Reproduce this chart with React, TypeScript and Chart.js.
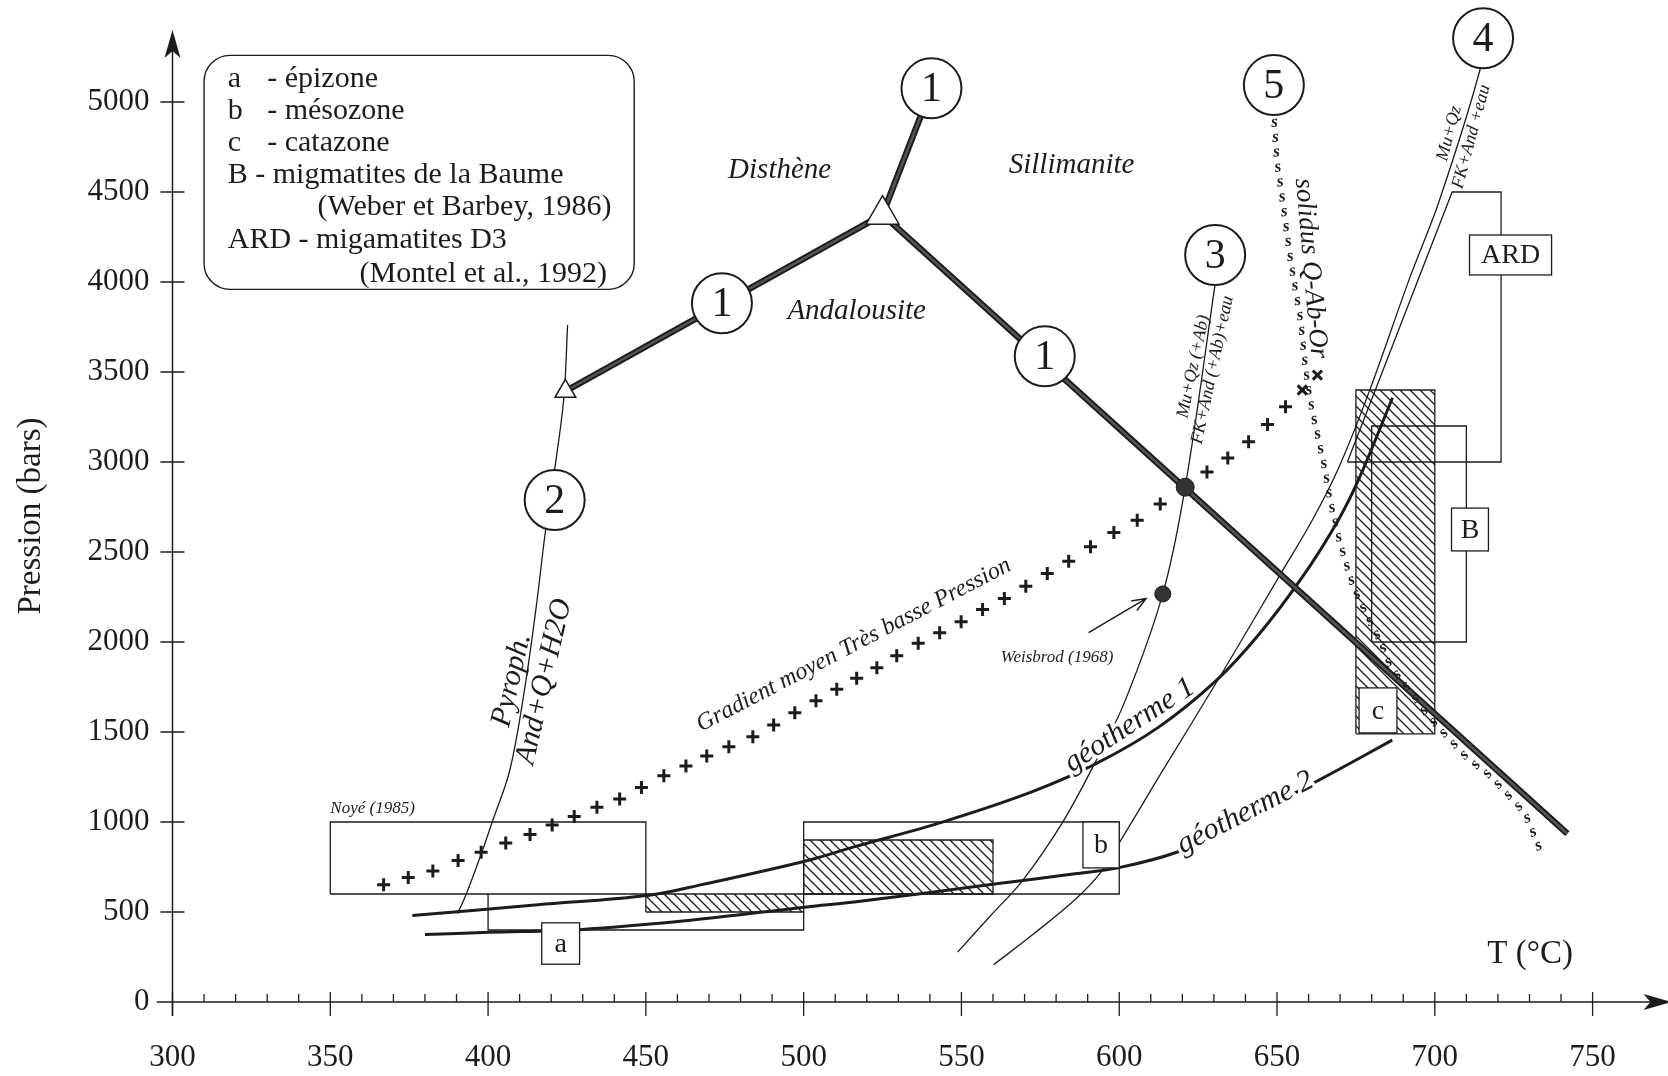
import React, { useEffect, useRef } from 'react';
import { Chart, registerables } from 'chart.js';

Chart.register(...registerables);

const INK = '#1c1c1c';
const SERIF = '"Liberation Serif", "Times New Roman", Times, serif';

// ---------- axes ----------
const tickT = [300, 350, 400, 450, 500, 550, 600, 650, 700, 750];
const tickP = [0, 500, 1000, 1500, 2000, 2500, 3000, 3500, 4000, 4500, 5000];
const minorStepT = 10;
const axisTipT = 775;
const axisTipP = 5400;

// ---------- (1) Al2SiO5 triple point & reactions ----------
const triplePointT = [525];
const triplePointP = [4374];
const kyAndT = [525, 424.5];
const kyAndP = [4374, 3393];
const andSilT = [525, 742];
const andSilP = [4374, 935];
const kySilT = [525, 540.5];
const kySilP = [4374, 5076];

// ---------- (2) Pyroph. -> And+Q+H2O ----------
const pyroT = [390.3, 393.1, 398.1, 401.3, 406.9, 411.7, 415.4, 418.1, 421.1, 424, 425.2];
const pyroP = [491, 600, 836, 1000, 1289, 1752, 2215, 2604, 2960, 3354, 3761];
const pyroEndT = [424.5];
const pyroEndP = [3393];

// ---------- (3) Mu+Qz(+Ab) -> FK+And(+Ab)+eau ----------
const mus3T = [548.8, 559, 569.3, 581.8, 592, 601.7, 613.8, 620.9, 630.4];
const mus3P = [277, 475, 673, 991, 1318, 1666, 2267, 2860, 3990];
const dotsT = [620.9, 613.8];
const dotsP = [2860, 2267];

// ---------- (4) Mu+Qz -> FK+And+eau ----------
const mus4T = [560.2, 572.7, 586.3, 594.3, 600.3, 612.5, 631.8, 651.2, 661.2, 669.7, 679.2, 692, 701.5, 714.3, 715.3];
const mus4P = [207, 376, 574, 723, 892, 1249, 1804, 2380, 2678, 2974, 3391, 4020, 4456, 5178, 5354];

// ---------- (5) solidus Q-Ab-Or ----------
const solT = [649, 650, 652.2, 654.3, 657.5, 659.1, 661, 665, 667.1, 670.2, 674.3, 678.4, 682.5, 685.6, 690.7, 697.9, 703.1, 710.3, 717.5, 723.7, 728.8, 733];
const solP = [4937, 4678, 4400, 4122, 3789, 3511, 3300, 2980, 2767, 2535, 2303, 2148, 2013, 1877, 1761, 1587, 1490, 1355, 1258, 1142, 1045, 860];

// ---------- geotherms ----------
const geo1T = [376, 415.8, 451, 468.5, 501, 516, 544.2, 572.7, 593.1, 612.5, 630.7, 644.3, 658, 669.4, 676.2, 686.6];
const geo1P = [480, 540, 593, 655, 785, 862, 1001, 1170, 1328, 1527, 1785, 2043, 2360, 2677, 2916, 3357];
const geo2T = [380, 400.3, 428.9, 464.8, 501, 516, 560.5, 586, 600.3, 618.2, 635.2, 652.3, 669.4, 686.5];
const geo2P = [375, 387, 402, 455, 528, 555, 655, 712, 748, 832, 971, 1130, 1290, 1455];

// ---------- Gradient moyen Très basse Pression (crosses) ----------
const gradT = [366.9, 374.7, 382.5, 390.5, 397.8, 405.6, 413.3, 420.3, 427.3, 434.5, 441.7, 448.6, 455.7, 462.7, 469.3, 476.3, 483.9, 490.5, 497.2, 503.9, 510.5, 516.8, 523.2, 529.5, 536.3, 543.1, 549.9, 556.7, 563.6, 570.4, 577.2, 584, 590.9, 598.3, 605.7, 613, 627.8, 634.4, 641, 647, 652.7];
const gradP = [651, 692, 728, 786, 832, 883, 930, 983, 1030, 1082, 1128, 1192, 1257, 1311, 1367, 1418, 1474, 1539, 1607, 1674, 1737, 1798, 1857, 1924, 1993, 2052, 2112, 2181, 2241, 2310, 2380, 2449, 2529, 2608, 2677, 2767, 2945, 3022, 3112, 3209, 3307];
const gradXT = [658, 662.8];
const gradXP = [3400, 3483];

// ---------- zones (boxes) ----------
const noyeT = [350, 450, 450, 350, 350];
const noyeP = [600, 600, 1000, 1000, 600];
const epiT = [400, 400, 500, 500];
const epiP = [600, 400, 400, 500];
const epiHatchT = [450, 500, 500, 450, 450];
const epiHatchP = [500, 500, 600, 600, 500];
const mesoT = [500, 600, 600, 500, 500];
const mesoP = [600, 600, 1000, 1000, 600];
const mesoHatchT = [500, 560, 560, 500, 500];
const mesoHatchP = [600, 600, 900, 900, 600];
const cataT = [675, 700, 700, 675, 675];
const cataP = [1490, 1490, 3400, 3400, 1490];
const baumeT = [680, 710, 710, 680, 680];
const baumeP = [2000, 2000, 3200, 3200, 2000];
const ardT = [672.3, 721, 721, 705.5, 672.3];
const ardP = [3000, 3000, 4500, 4500, 3000];

// ---------- labels ----------
const circleLabels = ['1', '1', '1', '2', '3', '4', '5'];
const circleT = [540.5, 474.1, 576.4, 421.1, 630.4, 715.3, 649];
const circleP = [5076, 3882, 3587, 2789, 4150, 5354, 5094];

const boxLabels = ['a', 'b', 'c', 'B', 'ARD'];
const boxT0 = [417, 588.5, 676, 705.3, 711];
const boxT1 = [429, 600, 688, 717, 737];
const boxP0 = [210, 745, 1495, 2506, 4039];
const boxP1 = [440, 1000, 1745, 2744, 4261];

const legendLines = [
  ['a', '- épizone'],
  ['b', '- mésozone'],
  ['c', '- catazone'],
  ['B - migmatites de la Baume', ''],
  ['', '(Weber et Barbey, 1986)'],
  ['ARD - migamatites D3', ''],
  ['', '(Montel et al., 1992)'],
];
const legendLineP = [5125, 4947, 4769, 4592, 4414, 4233, 4044];

const pts = (T: number[], P: number[]) => T.map((t, i) => ({ x: t, y: P[i] }));

function makeHatch(): CanvasPattern | string {
  const s = 10;
  const c = document.createElement('canvas');
  c.width = s;
  c.height = s;
  const g = c.getContext('2d');
  if (!g) return INK;
  g.strokeStyle = INK;
  g.lineWidth = 1.3;
  g.beginPath();
  g.moveTo(-1, -1);
  g.lineTo(s + 1, s + 1);
  g.moveTo(-2, s - 2);
  g.lineTo(2, s + 2);
  g.moveTo(s - 2, -2);
  g.lineTo(s + 2, 2);
  g.stroke();
  return g.createPattern(c, 'repeat') || INK;
}

const zeroPad = (s: any) => {
  s.paddingLeft = 0;
  s.paddingRight = 0;
  s.paddingTop = 0;
  s.paddingBottom = 0;
};

const annotations = {
  id: 'annotations',
  afterDatasetsDraw(chart: any) {
    const { ctx } = chart;
    const xs = chart.scales.x;
    const ys = chart.scales.y;
    const X = (t: number) => xs.getPixelForValue(t);
    const Y = (p: number) => ys.getPixelForValue(p);
    ctx.save();
    ctx.fillStyle = INK;
    ctx.strokeStyle = INK;

    const text = (s: string, t: number, p: number, font: string, o: any = {}) => {
      ctx.save();
      ctx.translate(X(t), Y(p));
      if (o.rot) ctx.rotate((o.rot * Math.PI) / 180);
      ctx.font = font;
      ctx.textAlign = o.align || 'center';
      ctx.textBaseline = o.baseline || 'middle';
      if (o.halo) {
        ctx.strokeStyle = '#fff';
        ctx.lineWidth = o.halo;
        ctx.lineJoin = 'round';
        ctx.strokeText(s, 0, 0);
      }
      ctx.fillStyle = INK;
      ctx.fillText(s, 0, 0);
      ctx.restore();
    };

    // solidus drawn as a chain of small "s"
    const sp = solT.map((t, i) => [X(t), Y(solP[i])]);
    ctx.font = `italic bold 17px ${SERIF}`;
    ctx.textAlign = 'center';
    ctx.textBaseline = 'middle';
    let carry = 9;
    for (let i = 0; i < sp.length - 1; i++) {
      const [ax, ay] = sp[i];
      const [bx, by] = sp[i + 1];
      const L = Math.hypot(bx - ax, by - ay);
      const ang = Math.atan2(by - ay, bx - ax);
      let d = carry;
      while (d <= L) {
        const px = ax + ((bx - ax) * d) / L;
        const py = ay + ((by - ay) * d) / L;
        ctx.save();
        ctx.translate(px, py);
        ctx.rotate(ang - Math.PI / 2);
        ctx.fillText('s', 0, 0);
        ctx.restore();
        d += 15;
      }
      carry = d - L;
    }

    // legend box
    ctx.lineWidth = 1.4;
    ctx.beginPath();
    (ctx as any).roundRect(X(310), Y(5259), X(446.3) - X(310), Y(3959) - Y(5259), 26);
    ctx.stroke();
    const lf = `30px ${SERIF}`;
    legendLines.forEach(([a, b], i) => {
      const p = legendLineP[i];
      if (a) text(a, 317.5, p, lf, { align: 'left' });
      if (b && a) text(b, 330, p, lf, { align: 'left' });
      if (b && !a) text(b, i === 4 ? 439.1 : 437.7, p, lf, { align: 'right' });
    });

    // label boxes
    boxLabels.forEach((s, i) => {
      const x0 = X(boxT0[i]);
      const x1 = X(boxT1[i]);
      const y0 = Y(boxP1[i]);
      const y1 = Y(boxP0[i]);
      ctx.fillStyle = '#fff';
      ctx.fillRect(x0, y0, x1 - x0, y1 - y0);
      ctx.lineWidth = 1.3;
      ctx.strokeStyle = INK;
      ctx.strokeRect(x0, y0, x1 - x0, y1 - y0);
      ctx.fillStyle = INK;
      ctx.font = `28px ${SERIF}`;
      ctx.textAlign = 'center';
      ctx.textBaseline = 'middle';
      ctx.fillText(s, (x0 + x1) / 2, (y0 + y1) / 2 + 1);
    });

    // numbered circles
    circleLabels.forEach((s, i) => {
      const cx = X(circleT[i]);
      const cy = Y(circleP[i]);
      ctx.beginPath();
      ctx.arc(cx, cy, 30, 0, Math.PI * 2);
      ctx.fillStyle = '#fff';
      ctx.fill();
      ctx.lineWidth = 2;
      ctx.strokeStyle = INK;
      ctx.stroke();
      ctx.fillStyle = INK;
      ctx.font = `42px ${SERIF}`;
      ctx.textAlign = 'center';
      ctx.textBaseline = 'middle';
      ctx.fillText(s, cx, cy + 2);
    });

    // italic labels
    const it = (n: number) => `italic ${n}px ${SERIF}`;
    text('Disthène', 492.4, 4621, it(29));
    text('Sillimanite', 584.9, 4650, it(29));
    text('Andalousite', 516.8, 3835, it(29));
    text('Noyé (1985)', 350, 1075, it(17), { align: 'left' });
    text('Weisbrod (1968)', 580.3, 1914, it(17));
    text('géotherme 1', 603.3, 1537, it(30), { rot: -33, halo: 7 });
    text('géotherme 2', 640, 1051, it(30), { rot: -27, halo: 7 });
    text('Gradient moyen Très basse Pression', 467.5, 1502, it(24), { rot: -27.5, align: 'left', baseline: 'alphabetic', halo: 5 });
    text('solidus Q-Ab-Or', 660.7, 4076, it(27), { rot: 85 });
    text('Mu+Qz', 704.6, 4826, it(18), { rot: -75 });
    text('FK+And +eau', 711.6, 4807, it(18), { rot: -75 });
    text('Mu+Qz (+Ab)', 623.5, 3530, it(18), { rot: -78 });
    text('FK+And (+Ab)+eau', 629.6, 3511, it(18), { rot: -78 });
    text('Pyroph.', 407.5, 1789, it(30), { rot: -77 });
    text('And+Q+H2O', 417.8, 1780, it(30), { rot: -77 });
    text('T (°C)', 730.2, 266, `33px ${SERIF}`);

    // Weisbrod arrow
    const ax0 = X(590.3), ay0 = Y(2052), ax1 = X(608.5), ay1 = Y(2241);
    const aa = Math.atan2(ay1 - ay0, ax1 - ax0);
    ctx.strokeStyle = INK;
    ctx.lineWidth = 1.5;
    ctx.beginPath();
    ctx.moveTo(ax0, ay0);
    ctx.lineTo(ax1, ay1);
    ctx.moveTo(ax1 - 15 * Math.cos(aa - 0.38), ay1 - 15 * Math.sin(aa - 0.38));
    ctx.lineTo(ax1, ay1);
    ctx.lineTo(ax1 - 15 * Math.cos(aa + 0.38), ay1 - 15 * Math.sin(aa + 0.38));
    ctx.stroke();

    // axes
    const x0 = X(300);
    const y0 = Y(0);
    const xEnd = X(axisTipT);
    const yEnd = Y(axisTipP);
    ctx.strokeStyle = INK;
    ctx.fillStyle = INK;
    ctx.lineWidth = 1.5;
    ctx.beginPath();
    ctx.moveTo(X(295), y0);
    ctx.lineTo(xEnd - 6, y0);
    ctx.moveTo(x0, Y(-78));
    ctx.lineTo(x0, yEnd + 6);
    ctx.stroke();
    // arrow heads
    ctx.beginPath();
    ctx.moveTo(xEnd, y0);
    ctx.lineTo(xEnd - 28, y0 - 8);
    ctx.lineTo(xEnd - 21, y0);
    ctx.lineTo(xEnd - 28, y0 + 8);
    ctx.closePath();
    ctx.fill();
    ctx.beginPath();
    ctx.moveTo(x0, yEnd);
    ctx.lineTo(x0 - 8, yEnd + 28);
    ctx.lineTo(x0, yEnd + 21);
    ctx.lineTo(x0 + 8, yEnd + 28);
    ctx.closePath();
    ctx.fill();
    // ticks
    ctx.lineWidth = 1.3;
    ctx.beginPath();
    for (let t = tickT[0]; t <= tickT[tickT.length - 1]; t += minorStepT) {
      const px = X(t);
      if (tickT.includes(t)) {
        ctx.moveTo(px, y0 - 10);
        ctx.lineTo(px, y0 + 14);
      } else {
        ctx.moveTo(px, y0 - 8);
        ctx.lineTo(px, y0);
      }
    }
    tickP.forEach((p) => {
      if (p === 0) return;
      const py = Y(p);
      ctx.moveTo(x0 - 12, py);
      ctx.lineTo(x0 + 12, py);
    });
    ctx.stroke();
    ctx.restore();
  },
};

export default function App() {
  const ref = useRef<HTMLCanvasElement | null>(null);

  useEffect(() => {
    const canvas = ref.current;
    if (!canvas) return;
    const hatch = makeHatch();

    const line = (T: number[], P: number[], extra: any = {}) => ({
      data: pts(T, P),
      showLine: true,
      pointRadius: 0,
      borderColor: INK,
      borderWidth: 1.3,
      tension: 0,
      fill: false,
      ...extra,
    });

    const datasets: any[] = [
      // hatched zones
      line(epiHatchT, epiHatchP, { fill: 'shape', backgroundColor: hatch, order: 100 }),
      line(mesoHatchT, mesoHatchP, { fill: 'shape', backgroundColor: hatch, order: 100 }),
      line(cataT, cataP, { fill: 'shape', backgroundColor: hatch, order: 100 }),
      // outlines
      line(noyeT, noyeP, { order: 90 }),
      line(epiT, epiP, { order: 90 }),
      line(mesoT, mesoP, { order: 90 }),
      line(baumeT, baumeP, { order: 90 }),
      line(ardT, ardP, { order: 90 }),
      // reaction curves
      line(pyroT, pyroP, { tension: 0.35, order: 80 }),
      line(mus3T, mus3P, { tension: 0.35, order: 80 }),
      line(mus4T, mus4P, { tension: 0.35, order: 80 }),
      // geotherms
      line(geo1T, geo1P, { tension: 0.35, borderWidth: 3, order: 70 }),
      line(geo2T, geo2P, { tension: 0.35, borderWidth: 3, order: 70 }),
      // aluminosilicate lines
      line(kyAndT, kyAndP, { borderWidth: 6.5, order: 61 }),
      line(andSilT, andSilP, { borderWidth: 6.5, order: 61 }),
      line(kySilT, kySilP, { borderWidth: 6.5, order: 61 }),
      line(kyAndT, kyAndP, { borderWidth: 2.5, borderColor: '#555', order: 60 }),
      line(andSilT, andSilP, { borderWidth: 2.5, borderColor: '#555', order: 60 }),
      line(kySilT, kySilP, { borderWidth: 2.5, borderColor: '#555', order: 60 }),
      // gradient crosses
      {
        data: pts(gradT, gradP),
        showLine: false,
        pointStyle: 'cross',
        pointRadius: 6.5,
        pointBorderWidth: 3,
        pointBorderColor: INK,
        order: 50,
      },
      {
        data: pts(gradXT, gradXP),
        showLine: false,
        pointStyle: 'crossRot',
        pointRadius: 6.5,
        pointBorderWidth: 3,
        pointBorderColor: INK,
        order: 50,
      },
      // dots
      {
        data: pts(dotsT, dotsP),
        showLine: false,
        pointStyle: 'circle',
        pointRadius: [9, 8],
        pointBackgroundColor: '#333',
        pointBorderColor: INK,
        pointBorderWidth: 1,
        order: 40,
      },
      // triangles
      {
        data: pts(triplePointT, triplePointP),
        showLine: false,
        pointStyle: 'triangle',
        pointRadius: 19,
        pointBackgroundColor: '#fff',
        pointBorderColor: INK,
        pointBorderWidth: 1.5,
        order: 30,
      },
      {
        data: pts(pyroEndT, pyroEndP),
        showLine: false,
        pointStyle: 'triangle',
        pointRadius: 12,
        pointBackgroundColor: '#fff',
        pointBorderColor: INK,
        pointBorderWidth: 1.5,
        order: 30,
      },
    ];

    const tickFont = { family: SERIF, size: 31 };

    const chart = new Chart(canvas, {
      type: 'scatter',
      data: { datasets },
      options: {
        responsive: false,
        animation: false,
        devicePixelRatio: 1,
        events: [],
        clip: false,
        layout: { padding: { left: 0, right: 4, top: 30, bottom: 0 } },
        plugins: { legend: { display: false }, tooltip: { enabled: false } },
        scales: {
          x: {
            type: 'linear',
            min: 300,
            max: 767.4,
            afterFit: (s: any) => {
              s.height = 74;
              zeroPad(s);
            },
            afterBuildTicks: (s: any) => {
              s.ticks = tickT.map((v) => ({ value: v }));
            },
            grid: { display: false, drawTicks: false },
            border: { display: false },
            ticks: {
              font: tickFont,
              color: INK,
              padding: 37,
              autoSkip: false,
              maxRotation: 0,
              minRotation: 0,
              callback: (v: any) => String(v),
            },
          },
          y: {
            type: 'linear',
            min: 0,
            max: 5400,
            afterFit: (s: any) => {
              s.width = 172.5;
              zeroPad(s);
            },
            afterBuildTicks: (s: any) => {
              s.ticks = tickP.map((v) => ({ value: v }));
            },
            grid: { display: false, drawTicks: false },
            border: { display: false },
            ticks: {
              font: tickFont,
              color: INK,
              padding: 23,
              autoSkip: false,
              callback: (v: any) => String(v),
            },
            title: {
              display: true,
              text: 'Pression (bars)',
              font: { family: SERIF, size: 33 },
              color: INK,
              padding: { top: 12, bottom: 0 },
            },
          },
        },
      } as any,
      plugins: [annotations],
    });

    return () => chart.destroy();
  }, []);

  return (
    <div style={{ position: 'fixed', left: 0, top: 0, width: 1668, height: 1076, background: '#fff' }}>
      <canvas ref={ref} width={1668} height={1076} style={{ display: 'block' }} />
    </div>
  );
}
